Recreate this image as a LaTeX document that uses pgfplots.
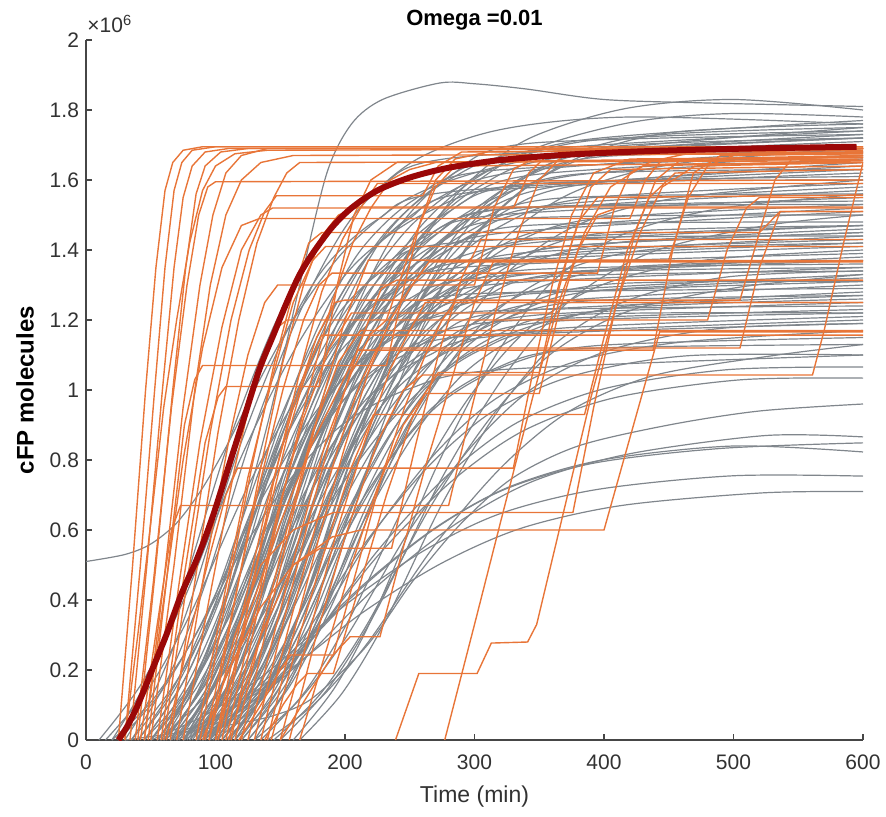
\documentclass[border=0pt]{standalone}
\usepackage{fontspec}
\setmainfont{Liberation Sans}
\usepackage{pgfplots}
\pgfplotsset{compat=1.18}

\definecolor{simgray}{RGB}{128,134,140}
\definecolor{stochorange}{RGB}{232,117,56}
\definecolor{meanred}{RGB}{155,8,8}
\definecolor{axiscol}{RGB}{70,70,70}
\definecolor{labelcol}{RGB}{50,50,50}

\pgfplotsset{
  sim/.style={draw=simgray, line width=0.6pt, smooth, tension=0.5},
  stoch/.style={draw=stochorange, line width=0.7pt},
  mean/.style={draw=meanred, line width=3pt, smooth, tension=0.5},
}

\begin{document}
\begin{tikzpicture}
\path[use as bounding box] (-43pt,-38pt) rectangle (400pt,370pt);
\begin{axis}[
  name=ax, at={(0,0)}, anchor=south west,
  width=388.5pt, height=350pt, scale only axis,
  xmin=0, xmax=600, ymin=0, ymax=2,
  axis lines=left,
  axis line style={-, draw=axiscol, line width=0.6pt},
  xtick={0,100,200,300,400,500,600},
  ytick={0,0.2,0.4,0.6,0.8,1,1.2,1.4,1.6,1.8,2},
  yticklabels={0,0.2,0.4,0.6,0.8,1,1.2,1.4,1.6,1.8,2},
  tick align=inside, major tick length=3pt,
  tick style={draw=axiscol, line width=0.6pt},
  tick label style={font=\fontsize{10.5}{12}\selectfont, text=labelcol},
  /pgf/number format/assume math mode=true,
  xticklabel style={yshift=-4pt},
  xlabel={Time (min)},
  xlabel style={font=\fontsize{11.5}{13}\selectfont, text=labelcol, at={(axis description cs:0.5,-0.0814)}, anchor=center},
  ylabel={cFP molecules},
  ylabel style={font=\bfseries\fontsize{12}{14}\selectfont, at={(axis description cs:-0.0785,0.5)}, anchor=center},
]
% deterministic model runs
\addplot[sim] coordinates {(20,0)(47,0.17)(74,0.425)(110,0.85)(146,1.19)(182,1.428)(227,1.581)(290,1.666)(600,1.72)};
\addplot[sim] coordinates {(15,0)(48,0.145)(81,0.363)(125,0.725)(169,1.015)(213,1.218)(268,1.349)(345,1.421)(600,1.47)};
\addplot[sim] coordinates {(30,0)(55.5,0.16)(81,0.4)(115,0.8)(149,1.12)(183,1.344)(225.5,1.488)(285,1.568)(600,1.63)};
\addplot[sim] coordinates {(35,0)(63.5,0.178)(92,0.445)(130,0.89)(168,1.246)(206,1.495)(253.5,1.655)(320,1.744)(420,1.78)(600,1.76)};
\addplot[sim] coordinates {(40,0)(67,0.135)(94,0.338)(130,0.675)(166,0.945)(202,1.134)(247,1.256)(310,1.323)(600,1.38)};
\addplot[sim] coordinates {(45,0)(73.5,0.155)(102,0.388)(140,0.775)(178,1.085)(216,1.302)(263.5,1.442)(330,1.519)(600,1.53)};
\addplot[sim] coordinates {(50,0)(75.5,0.125)(101,0.313)(135,0.625)(169,0.875)(203,1.05)(245.5,1.163)(305,1.225)(600,1.24)};
\addplot[sim] coordinates {(50,0)(80,0.172)(110,0.43)(150,0.86)(190,1.204)(230,1.445)(280,1.6)(350,1.686)(600,1.74)};
\addplot[sim] coordinates {(55,0)(82,0.148)(109,0.37)(145,0.74)(181,1.036)(217,1.243)(262,1.376)(325,1.45)(600,1.51)};
\addplot[sim] coordinates {(55,0)(88,0.165)(121,0.413)(165,0.825)(209,1.155)(253,1.386)(308,1.535)(385,1.617)(600,1.66)};
\addplot[sim] coordinates {(60,0)(84,0.118)(108,0.295)(140,0.59)(172,0.826)(204,0.991)(244,1.097)(300,1.156)(600,1.2)};
\addplot[sim] coordinates {(60,0)(88.5,0.14)(117,0.35)(155,0.7)(193,0.98)(231,1.176)(278.5,1.302)(345,1.372)(600,1.41)};
\addplot[sim] coordinates {(65,0)(95,0.158)(125,0.395)(165,0.79)(205,1.106)(245,1.327)(295,1.469)(365,1.548)(600,1.56)};
\addplot[sim] coordinates {(65,0)(90.5,0.13)(116,0.325)(150,0.65)(184,0.91)(218,1.092)(260.5,1.209)(320,1.274)(600,1.33)};
\addplot[sim] coordinates {(70,0)(97,0.15)(124,0.375)(160,0.75)(196,1.05)(232,1.26)(277,1.395)(340,1.47)(600,1.48)};
\addplot[sim] coordinates {(70,0)(101.5,0.175)(133,0.438)(175,0.875)(217,1.225)(259,1.47)(311.5,1.628)(385,1.715)(600,1.77)};
\addplot[sim] coordinates {(75,0)(103.5,0.122)(132,0.305)(170,0.61)(208,0.854)(246,1.025)(293.5,1.135)(360,1.196)(600,1.22)};
\addplot[sim] coordinates {(75,0)(105,0.162)(135,0.405)(175,0.81)(215,1.134)(255,1.361)(305,1.507)(375,1.588)(600,1.64)};
\addplot[sim] coordinates {(80,0)(107,0.136)(134,0.34)(170,0.68)(206,0.952)(242,1.142)(287,1.265)(350,1.333)(600,1.35)};
\addplot[sim] coordinates {(80,0)(113,0.145)(146,0.363)(190,0.725)(234,1.015)(278,1.218)(333,1.349)(410,1.421)(600,1.46)};
\addplot[sim] coordinates {(85,0)(113.5,0.17)(142,0.425)(180,0.85)(218,1.19)(256,1.428)(303.5,1.581)(370,1.666)(600,1.71)};
\addplot[sim] coordinates {(85,0)(115,0.128)(145,0.32)(185,0.64)(225,0.896)(265,1.075)(315,1.19)(385,1.254)(600,1.27)};
\addplot[sim] coordinates {(90,0)(117,0.155)(144,0.388)(180,0.775)(216,1.085)(252,1.302)(297,1.442)(360,1.519)(600,1.57)};
\addplot[sim] coordinates {(90,0)(123,0.138)(156,0.345)(200,0.69)(244,0.966)(288,1.159)(343,1.283)(420,1.352)(600,1.37)};
\addplot[sim] coordinates {(95,0)(123.5,0.165)(152,0.413)(190,0.825)(228,1.155)(266,1.386)(313.5,1.535)(380,1.617)(600,1.63)};
\addplot[sim] coordinates {(95,0)(125,0.115)(155,0.288)(195,0.575)(235,0.805)(275,0.966)(325,1.07)(395,1.127)(600,1.15)};
\addplot[sim] coordinates {(100,0)(127,0.144)(154,0.36)(190,0.72)(226,1.008)(262,1.21)(307,1.339)(370,1.411)(600,1.45)};
\addplot[sim] coordinates {(100,0)(133,0.176)(166,0.44)(210,0.88)(254,1.232)(298,1.478)(353,1.637)(430,1.725)(600,1.75)};
\addplot[sim] coordinates {(105,0)(135,0.133)(165,0.333)(205,0.665)(245,0.931)(285,1.117)(335,1.237)(405,1.303)(600,1.31)};
\addplot[sim] coordinates {(110,0)(138.5,0.152)(167,0.38)(205,0.76)(243,1.064)(281,1.277)(328.5,1.414)(395,1.49)(600,1.53)};
\addplot[sim] coordinates {(110,0)(144.5,0.168)(179,0.42)(225,0.84)(271,1.176)(317,1.411)(374.5,1.562)(455,1.646)(600,1.69)};
\addplot[sim] coordinates {(115,0)(145,0.126)(175,0.315)(215,0.63)(255,0.882)(295,1.058)(345,1.172)(415,1.235)(600,1.26)};
\addplot[sim] coordinates {(120,0)(151.5,0.143)(183,0.358)(225,0.715)(267,1.001)(309,1.201)(361.5,1.33)(435,1.401)(600,1.42)};
\addplot[sim] coordinates {(125,0)(158,0.158)(191,0.395)(235,0.79)(279,1.106)(323,1.327)(378,1.469)(455,1.548)(600,1.6)};
\addplot[sim] coordinates {(130,0)(166,0.12)(202,0.3)(250,0.6)(298,0.84)(346,1.008)(406,1.116)(490,1.176)(600,1.19)};
\addplot[sim] coordinates {(135,0)(169.5,0.14)(204,0.35)(250,0.7)(296,0.98)(342,1.176)(399.5,1.302)(480,1.372)(600,1.4)};
\addplot[sim] coordinates {(140,0)(179,0.112)(218,0.28)(270,0.56)(322,0.784)(374,0.941)(439,1.042)(530,1.098)(600,1.13)};
\addplot[sim] coordinates {(145,0)(181,0.132)(217,0.33)(265,0.66)(313,0.924)(361,1.109)(421,1.228)(505,1.294)(600,1.33)};
\addplot[sim] coordinates {(150,0)(187.5,0.15)(225,0.375)(275,0.75)(325,1.05)(375,1.26)(437.5,1.395)(525,1.47)(600,1.5)};
\addplot[sim] coordinates {(57,0)(103.5,0.072)(150,0.18)(212,0.36)(274,0.504)(336,0.605)(413.5,0.67)(522,0.706)(600,0.71)};
\addplot[sim] coordinates {(50,0)(95,0.077)(140,0.193)(200,0.385)(260,0.539)(320,0.647)(395,0.716)(500,0.755)(600,0.754)};
\addplot[sim] coordinates {(65,0)(108.5,0.086)(152,0.215)(210,0.43)(268,0.602)(326,0.722)(398.5,0.8)(500,0.84)(600,0.823)};
\addplot[sim] coordinates {(70,0)(112,0.085)(154,0.213)(210,0.425)(266,0.595)(322,0.714)(392,0.791)(490,0.833)(600,0.849)};
\addplot[sim] coordinates {(75,0)(120,0.088)(165,0.22)(225,0.44)(285,0.616)(345,0.739)(420,0.818)(525,0.87)(600,0.866)};
\addplot[sim] coordinates {(30,0)(70,0.02)(111,0.043)(145,0.07)(175,0.12)(217,0.27)(253,0.457)(290,0.62)(330,0.75)(380,0.84)(450,0.9)(520,0.94)(600,0.96)};
\addplot[sim] coordinates {(85,0)(127,0.105)(169,0.263)(225,0.525)(281,0.735)(337,0.882)(407,0.977)(505,1.029)(600,1.034)};
\addplot[sim] coordinates {(90,0)(130.5,0.108)(171,0.27)(225,0.54)(279,0.756)(333,0.907)(400.5,1.004)(495,1.058)(600,1.066)};
\addplot[sim] coordinates {(90,0)(127.5,0.112)(165,0.28)(215,0.56)(265,0.784)(315,0.941)(377.5,1.042)(465,1.098)(600,1.1)};
\addplot[sim] coordinates {(100,0)(136,0.116)(172,0.29)(220,0.58)(268,0.812)(316,0.974)(376,1.079)(460,1.137)(600,1.17)};
\addplot[sim] coordinates {(25,0)(56.5,0.13)(88,0.325)(130,0.65)(172,0.91)(214,1.092)(266.5,1.209)(340,1.274)(600,1.31)};
\addplot[sim] coordinates {(40,0)(70,0.166)(100,0.415)(140,0.83)(180,1.162)(220,1.394)(270,1.544)(340,1.627)(600,1.69)};
\addplot[sim] coordinates {(60,0)(96,0.18)(132,0.45)(180,0.9)(228,1.26)(276,1.512)(336,1.674)(420,1.764)(500,1.79)(600,1.78)};
\addplot[sim] coordinates {(75,0)(99,0.153)(123,0.383)(155,0.765)(187,1.071)(219,1.285)(259,1.423)(315,1.499)(600,1.55)};
\addplot[sim] coordinates {(100,0)(124,0.137)(148,0.343)(180,0.685)(212,0.959)(244,1.151)(284,1.274)(340,1.343)(600,1.36)};
\addplot[sim] coordinates {(115,0)(142,0.162)(169,0.405)(205,0.81)(241,1.134)(277,1.361)(322,1.507)(385,1.588)(600,1.65)};
\addplot[sim] coordinates {(120,0)(145.5,0.124)(171,0.31)(205,0.62)(239,0.868)(273,1.042)(315.5,1.153)(375,1.215)(600,1.22)};
\addplot[sim] coordinates {(130,0)(158.5,0.172)(187,0.43)(225,0.86)(263,1.204)(301,1.445)(348.5,1.6)(415,1.686)(600,1.73)};
\addplot[sim] coordinates {(160,0)(193,0.155)(226,0.388)(270,0.775)(314,1.085)(358,1.302)(413,1.442)(490,1.519)(600,1.56)};
\addplot[sim] coordinates {(45,0)(78,0.142)(111,0.355)(155,0.71)(199,0.994)(243,1.193)(298,1.321)(375,1.392)(600,1.44)};
\addplot[sim] coordinates {(55,0)(92.5,0.127)(130,0.318)(180,0.635)(230,0.889)(280,1.067)(342.5,1.181)(430,1.245)(600,1.28)};
\addplot[sim] coordinates {(35,0)(71,0.175)(107,0.438)(155,0.875)(203,1.225)(251,1.47)(311,1.628)(395,1.715)(600,1.74)};
\addplot[sim] coordinates {(105,0)(139.5,0.177)(174,0.443)(220,0.885)(266,1.239)(312,1.487)(369.5,1.646)(450,1.735)(600,1.76)};
\addplot[sim] coordinates {(20,0)(50,0.108)(80,0.27)(120,0.54)(160,0.756)(200,0.907)(250,1.004)(320,1.058)(600,1.1)};
\addplot[sim] coordinates {(10,0)(43,0.162)(76,0.405)(120,0.81)(164,1.134)(208,1.361)(263,1.507)(340,1.588)(600,1.61)};
\addplot[sim] coordinates {(165,0)(198,0.135)(231,0.338)(275,0.675)(319,0.945)(363,1.134)(418,1.256)(495,1.323)(600,1.34)};
\addplot[sim] coordinates {(85,0)(118,0.184)(151,0.46)(195,0.92)(239,1.288)(283,1.546)(338,1.711)(415,1.803)(500,1.83)(600,1.8)};
\addplot[sim] coordinates {(45,0)(80,0.2)(110,0.5)(140,0.9)(165,1.3)(186,1.62)(205,1.76)(229,1.83)(273,1.877)(300,1.875)(340,1.86)(400,1.83)(480,1.82)(600,1.81)};
\addplot[sim] coordinates {(0,0.51)(30,0.53)(50,0.56)(70,0.62)(90,0.72)(110,0.85)(130,1.0)(160,1.2)(200,1.4)(250,1.55)(320,1.64)(420,1.7)(600,1.72)};
\addplot[sim] coordinates {(60,0)(82.5,0.145)(105,0.363)(135,0.725)(165,1.015)(195,1.218)(232.5,1.349)(285,1.421)(600,1.47)};
\addplot[sim] coordinates {(65,0)(89,0.16)(113,0.4)(145,0.8)(177,1.12)(209,1.344)(249,1.488)(305,1.568)(600,1.62)};
\addplot[sim] coordinates {(70,0)(92.5,0.13)(115,0.325)(145,0.65)(175,0.91)(205,1.092)(242.5,1.209)(295,1.274)(600,1.29)};
\addplot[sim] coordinates {(75,0)(100.5,0.17)(126,0.425)(160,0.85)(194,1.19)(228,1.428)(270.5,1.581)(330,1.666)(600,1.72)};
\addplot[sim] coordinates {(80,0)(102.5,0.14)(125,0.35)(155,0.7)(185,0.98)(215,1.176)(252.5,1.302)(305,1.372)(600,1.42)};
\addplot[sim] coordinates {(85,0)(109,0.155)(133,0.388)(165,0.775)(197,1.085)(229,1.302)(269,1.442)(325,1.519)(600,1.54)};
\addplot[sim] coordinates {(90,0)(114,0.125)(138,0.313)(170,0.625)(202,0.875)(234,1.05)(274,1.163)(330,1.225)(600,1.27)};
\addplot[sim] coordinates {(95,0)(120.5,0.165)(146,0.413)(180,0.825)(214,1.155)(248,1.386)(290.5,1.535)(350,1.617)(600,1.67)};
\addplot[sim] coordinates {(100,0)(125.5,0.135)(151,0.338)(185,0.675)(219,0.945)(253,1.134)(295.5,1.256)(355,1.323)(600,1.34)};
\addplot[sim] coordinates {(105,0)(132,0.15)(159,0.375)(195,0.75)(231,1.05)(267,1.26)(312,1.395)(375,1.47)(600,1.52)};
\addplot[sim] coordinates {(110,0)(135.5,0.12)(161,0.3)(195,0.6)(229,0.84)(263,1.008)(305.5,1.116)(365,1.176)(600,1.21)};
\addplot[sim] coordinates {(115,0)(143.5,0.172)(172,0.43)(210,0.86)(248,1.204)(286,1.445)(333.5,1.6)(400,1.686)(600,1.75)};
\addplot[sim] coordinates {(55,0)(79,0.138)(103,0.345)(135,0.69)(167,0.966)(199,1.159)(239,1.283)(295,1.352)(600,1.39)};
\addplot[sim] coordinates {(62,0)(89,0.152)(116,0.38)(152,0.76)(188,1.064)(224,1.277)(269,1.414)(332,1.49)(600,1.5)};
\addplot[sim] coordinates {(68,0)(93.5,0.118)(119,0.295)(153,0.59)(187,0.826)(221,0.991)(263.5,1.097)(323,1.156)(600,1.19)};
\addplot[sim] coordinates {(72,0)(99,0.162)(126,0.405)(162,0.81)(198,1.134)(234,1.361)(279,1.507)(342,1.588)(600,1.6)};
\addplot[sim] coordinates {(78,0)(102,0.133)(126,0.333)(158,0.665)(190,0.931)(222,1.117)(262,1.237)(318,1.303)(600,1.35)};
\addplot[sim] coordinates {(82,0)(109,0.146)(136,0.365)(172,0.73)(208,1.022)(244,1.226)(289,1.358)(352,1.431)(600,1.44)};
\addplot[sim] coordinates {(88,0)(113.5,0.174)(139,0.435)(173,0.87)(207,1.218)(241,1.462)(283.5,1.618)(343,1.705)(600,1.73)};
\addplot[sim] coordinates {(92,0)(119,0.128)(146,0.32)(182,0.64)(218,0.896)(254,1.075)(299,1.19)(362,1.254)(600,1.3)};
\addplot[sim] coordinates {(98,0)(122,0.142)(146,0.355)(178,0.71)(210,0.994)(242,1.193)(282,1.321)(338,1.392)(600,1.43)};
\addplot[sim] coordinates {(102,0)(130.5,0.158)(159,0.395)(197,0.79)(235,1.106)(273,1.327)(320.5,1.469)(387,1.548)(600,1.59)};
\addplot[sim] coordinates {(108,0)(135,0.114)(162,0.285)(198,0.57)(234,0.798)(270,0.958)(315,1.06)(378,1.117)(600,1.13)};
\addplot[sim] coordinates {(112,0)(137.5,0.136)(163,0.34)(197,0.68)(231,0.952)(265,1.142)(307.5,1.265)(367,1.333)(600,1.37)};
\addplot[sim] coordinates {(118,0)(146.5,0.148)(175,0.37)(213,0.74)(251,1.036)(289,1.243)(336.5,1.376)(403,1.45)(600,1.47)};
\addplot[sim] coordinates {(58,0)(83.5,0.166)(109,0.415)(143,0.83)(177,1.162)(211,1.394)(253.5,1.544)(313,1.627)(600,1.67)};
\addplot[sim] coordinates {(66,0)(94.5,0.124)(123,0.31)(161,0.62)(199,0.868)(237,1.042)(284.5,1.153)(351,1.215)(600,1.25)};
\addplot[sim] coordinates {(76,0)(104.5,0.156)(133,0.39)(171,0.78)(209,1.092)(247,1.31)(294.5,1.451)(361,1.529)(600,1.58)};
\addplot[sim] coordinates {(86,0)(114.5,0.144)(143,0.36)(181,0.72)(219,1.008)(257,1.21)(304.5,1.339)(371,1.411)(600,1.45)};
\addplot[sim] coordinates {(96,0)(126,0.17)(156,0.425)(196,0.85)(236,1.19)(276,1.428)(326,1.581)(396,1.666)(600,1.68)};
\addplot[sim] coordinates {(125,0)(152,0.131)(179,0.328)(215,0.655)(251,0.917)(287,1.1)(332,1.218)(395,1.284)(600,1.32)};
\addplot[sim] coordinates {(50,0)(77,0.122)(104,0.305)(140,0.61)(176,0.854)(212,1.025)(257,1.135)(320,1.196)(600,1.23)};

% stochastic runs
\addplot[stoch] coordinates {(25,0)(36,0.5)(46,1)(54,1.35)(61,1.57)(67,1.65)(75,1.685)(90,1.695)(600,1.695)};
\addplot[stoch] coordinates {(30,0)(42,0.5)(53,1)(61,1.35)(68,1.57)(74,1.65)(82,1.685)(100,1.695)(600,1.695)};
\addplot[stoch] coordinates {(34,0)(47,0.5)(59,1)(68,1.35)(75,1.55)(82,1.64)(92,1.68)(110,1.69)(600,1.69)};
\addplot[stoch] coordinates {(40,0)(54,0.5)(67,1)(77,1.35)(85,1.56)(92,1.64)(104,1.68)(125,1.69)(600,1.69)};
\addplot[stoch] coordinates {(38,0)(52,0.45)(66,0.95)(78,1.3)(87,1.5)(94,1.58)(100,1.595)(600,1.6)};
\addplot[stoch] coordinates {(45,0)(60,0.45)(75,0.95)(88,1.3)(98,1.5)(108,1.62)(120,1.67)(140,1.69)(600,1.69)};
\addplot[stoch] coordinates {(30,0)(40,0.3)(50,0.62)(60,0.95)(70,1.2)(80,1.42)(90,1.57)(100,1.64)(115,1.675)(140,1.685)(600,1.69)};
\addplot[stoch] coordinates {(50,0)(68,0.5)(84,1)(96,1.3)(108,1.5)(120,1.6)(135,1.65)(160,1.67)(600,1.675)};
\addplot[stoch] coordinates {(45,0)(60,0.4)(75,0.8)(90,1.12)(105,1.35)(120,1.47)(134,1.49)(420,1.49)(432,1.6)(445,1.66)(470,1.68)(600,1.685)};
\addplot[stoch] coordinates {(55,0)(72,0.45)(88,0.85)(105,1.18)(120,1.4)(135,1.5)(144,1.52)(330,1.52)(342,1.62)(356,1.67)(600,1.68)};
\addplot[stoch] coordinates {(60,0)(78,0.45)(96,0.88)(112,1.2)(126,1.4)(138,1.51)(147,1.555)(260,1.555)(272,1.64)(290,1.68)(600,1.69)};
\addplot[stoch] coordinates {(65,0)(84,0.45)(102,0.88)(118,1.2)(132,1.42)(145,1.55)(155,1.62)(165,1.65)(600,1.655)};
\addplot[stoch] coordinates {(48,0)(62,0.45)(76,0.9)(84,1.03)(90,1.07)(232,1.07)(246,1.3)(258,1.48)(270,1.6)(285,1.66)(310,1.68)(600,1.69)};
\addplot[stoch] coordinates {(42,0)(55,0.33)(66,0.6)(73,0.67)(280,0.67)(298,0.95)(316,1.22)(334,1.45)(350,1.6)(368,1.67)(400,1.69)(600,1.69)};
\addplot[stoch] coordinates {(58,0)(75,0.45)(92,0.85)(102,0.98)(108,1.01)(180,1.01)(194,1.3)(207,1.5)(220,1.6)(240,1.65)(600,1.665)};
\addplot[stoch] coordinates {(62,0)(80,0.3)(95,0.52)(108,0.7)(117,0.777)(330,0.777)(345,1.05)(360,1.3)(375,1.5)(392,1.62)(420,1.66)(600,1.665)};
\addplot[stoch] coordinates {(95,0)(115,0.3)(135,0.5)(160,0.6)(191,0.65)(376,0.65)(392,0.95)(408,1.22)(424,1.45)(440,1.6)(460,1.66)(600,1.67)};
\addplot[stoch] coordinates {(110,0)(135,0.3)(160,0.5)(190,0.58)(212,0.6)(400,0.6)(443,1.166)(600,1.166)};
\addplot[stoch] coordinates {(90,0)(110,0.2)(135,0.38)(160,0.5)(181,0.548)(236,0.548)(255,0.85)(272,1.1)(290,1.32)(305,1.43)(600,1.43)};
\addplot[stoch] coordinates {(150,0)(170,0.12)(190,0.24)(204,0.295)(227,0.295)(245,0.55)(262,0.78)(280,1.0)(300,1.25)(315,1.37)(600,1.37)};
\addplot[stoch] coordinates {(118,0)(135,0.1)(150,0.2)(158,0.243)(191,0.243)(210,0.5)(228,0.75)(246,0.95)(262,1.1)(275,1.2)(285,1.25)(600,1.25)};
\addplot[stoch] coordinates {(138,0)(152,0.1)(163,0.16)(171,0.19)(191,0.19)(212,0.45)(232,0.7)(252,0.92)(262,0.99)(350,0.99)(365,1.22)(380,1.4)(395,1.5)(410,1.52)(600,1.52)};
\addplot[stoch] coordinates {(239,0)(257,0.19)(302,0.19)(313,0.277)(341,0.28)(348,0.33)(371,0.686)(390,0.98)(410,1.25)(428,1.45)(445,1.58)(470,1.64)(600,1.65)};
\addplot[stoch] coordinates {(277,0)(300,0.33)(322,0.65)(345,0.98)(365,1.25)(385,1.45)(405,1.58)(430,1.64)(600,1.655)};
\addplot[stoch] coordinates {(143,0)(165,0.3)(185,0.55)(205,0.78)(222,0.93)(385,0.93)(400,1.15)(418,1.4)(435,1.55)(455,1.62)(600,1.63)};
\addplot[stoch] coordinates {(157,0)(178,0.3)(200,0.58)(225,0.85)(245,1)(260,1.043)(561,1.043)(570,1.17)(585,1.42)(600,1.65)};
\addplot[stoch] coordinates {(100,0)(125,0.35)(150,0.62)(175,0.85)(195,1)(210,1.114)(438,1.114)(453,1.4)(469,1.62)(490,1.67)(600,1.68)};
\addplot[stoch] coordinates {(70,0)(90,0.45)(110,0.85)(125,1.1)(138,1.25)(148,1.3)(300,1.3)(315,1.52)(330,1.63)(350,1.67)(600,1.68)};
\addplot[stoch] coordinates {(75,0)(95,0.4)(115,0.78)(132,1.05)(145,1.17)(155,1.2)(480,1.2)(495,1.4)(510,1.52)(520,1.55)(600,1.55)};
\addplot[stoch] coordinates {(85,0)(105,0.38)(125,0.75)(145,1.05)(160,1.25)(175,1.37)(185,1.41)(600,1.41)};
\addplot[stoch] coordinates {(92,0)(112,0.35)(132,0.7)(152,1)(168,1.2)(180,1.3)(190,1.334)(395,1.334)(408,1.52)(420,1.62)(440,1.66)(600,1.665)};
\addplot[stoch] coordinates {(100,0)(120,0.35)(140,0.68)(160,0.95)(178,1.15)(192,1.25)(200,1.257)(505,1.257)(520,1.45)(536,1.51)(600,1.51)};
\addplot[stoch] coordinates {(108,0)(128,0.33)(148,0.65)(168,0.92)(188,1.12)(205,1.22)(360,1.22)(375,1.42)(390,1.58)(405,1.63)(600,1.64)};
\addplot[stoch] coordinates {(115,0)(135,0.3)(155,0.6)(175,0.88)(195,1.08)(212,1.17)(600,1.17)};
\addplot[stoch] coordinates {(125,0)(145,0.3)(165,0.58)(185,0.85)(205,1.05)(220,1.16)(232,1.2)(255,1.45)(270,1.58)(285,1.64)(600,1.65)};
\addplot[stoch] coordinates {(88,0)(108,0.4)(128,0.78)(145,1.07)(160,1.28)(172,1.42)(182,1.45)(520,1.45)(532,1.6)(545,1.66)(600,1.67)};
\addplot[stoch] coordinates {(95,0)(115,0.4)(135,0.78)(152,1.08)(168,1.3)(182,1.44)(195,1.5)(210,1.523)(600,1.523)};
\addplot[stoch] coordinates {(105,0)(125,0.38)(145,0.74)(165,1.05)(182,1.28)(198,1.43)(212,1.52)(225,1.59)(600,1.59)};
\addplot[stoch] coordinates {(112,0)(132,0.36)(152,0.7)(172,1)(190,1.25)(206,1.42)(220,1.52)(235,1.6)(250,1.63)(270,1.65)(600,1.66)};
\addplot[stoch] coordinates {(120,0)(140,0.33)(160,0.65)(180,0.94)(200,1.2)(218,1.371)(450,1.371)(465,1.55)(480,1.64)(500,1.67)(600,1.675)};
\addplot[stoch] coordinates {(130,0)(150,0.3)(170,0.6)(190,0.88)(210,1.12)(228,1.29)(240,1.314)(600,1.314)};
\addplot[stoch] coordinates {(140,0)(160,0.3)(180,0.58)(200,0.84)(218,1.05)(235,1.2)(250,1.29)(265,1.366)(600,1.366)};
\addplot[stoch] coordinates {(102,0)(120,0.3)(138,0.6)(155,0.86)(170,1.05)(182,1.157)(600,1.157)};
\addplot[stoch] coordinates {(150,0)(172,0.3)(194,0.6)(215,0.85)(235,1.06)(250,1.17)(262,1.25)(600,1.25)};
\addplot[stoch] coordinates {(165,0)(185,0.25)(205,0.5)(225,0.72)(245,0.9)(260,0.98)(272,1.05)(350,1.05)(365,1.3)(380,1.48)(395,1.55)(600,1.557)};
\addplot[stoch] coordinates {(135,0)(155,0.3)(175,0.58)(195,0.84)(212,1.02)(225,1.12)(505,1.12)(520,1.35)(536,1.51)(600,1.51)};

% mean trajectory
\addplot[mean] coordinates {(25,0)(32,0.04)(40,0.1)(51,0.2)(62,0.3)(74,0.42)(86,0.52)(98,0.64)(110,0.78)(122,0.92)(134,1.06)(145,1.16)(155,1.25)(165,1.33)(175,1.39)(190,1.465)(205,1.52)(225,1.57)(250,1.607)(280,1.635)(320,1.657)(370,1.672)(430,1.682)(500,1.689)(595,1.695)};
\end{axis}
\node[anchor=center, inner sep=0, font=\bfseries\fontsize{11}{13}\selectfont] at ([yshift=10pt]ax.north) {Omega =0.01};
\node[anchor=base west, inner sep=0, font=\fontsize{10.5}{12}\selectfont, text=labelcol] at ([xshift=0.5pt,yshift=3.5pt]ax.north west) {×10\textsuperscript{6}};
\end{tikzpicture}
\end{document}
